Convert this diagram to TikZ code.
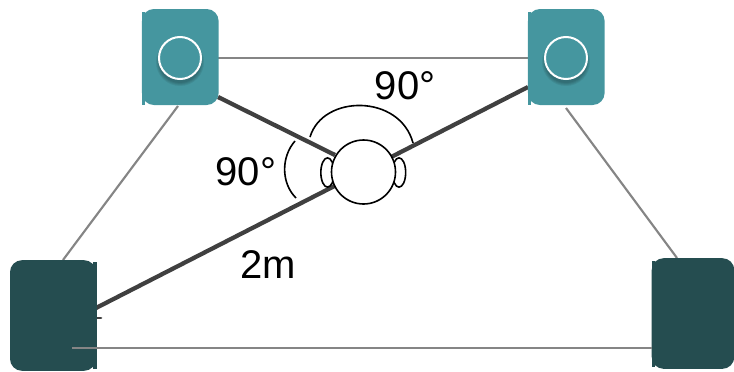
\documentclass[tikz,border=0pt]{standalone}
\usepackage{fontspec}
\usetikzlibrary{shapes.geometric}
\setmainfont{Liberation Sans}
\definecolor{tealbox}{HTML}{45969F}
\definecolor{darkbox}{HTML}{254D50}
\definecolor{thinline}{HTML}{858585}
\definecolor{thickline}{HTML}{404040}
\begin{document}
\begin{tikzpicture}[x=0.75pt,y=-0.75pt,
  speaker/.style={rounded corners=9pt,inner sep=0pt,outer sep=0pt,minimum width=#1},
  thin link/.style={draw=thinline,line width=1.6pt},
  thick link/.style={draw=thickline,line width=3.2pt},
  cone/.style={draw=white,line width=1.5pt,circle,inner sep=0pt,minimum size=31.5pt,fill=tealbox},
  headpart/.style={draw=black,line width=1.2pt,fill=white,inner sep=0pt},
  anglearc/.style={draw=black,line width=1.2pt},
  lbl/.style={font=\fontsize{30}{32}\selectfont,inner sep=0pt,text=black}]
\useasboundingbox (0,0) rectangle (734,371);
% anchors of the connectors
\coordinate (tlR) at (218,58);
\coordinate (trL) at (528,58);
\coordinate (tlB) at (178,106);
\coordinate (dlT) at (63,260);
\coordinate (trB) at (566,108);
\coordinate (drT) at (677,258);
\coordinate (dlIn) at (72,348);
\coordinate (drL) at (652,348);
\coordinate (tlC) at (218,97);
\coordinate (dlR) at (96,308);
\coordinate (trC) at (528,87);
\coordinate (stubA) at (96,318);
\coordinate (stubB) at (101,318);
% connectors under the boxes
\draw[thin link] (tlR) -- (trL);
\draw[thin link] (tlB) -- (dlT);
\draw[thin link] (trB) -- (drT);
\draw[thick link] (dlR) -- (trC);
\draw[thick link] (tlC) -- (335,155) coordinate (headL);
\draw[thickline,line width=2pt,line cap=round] (stubA) -- (stubB);
% speakers
\node[speaker=57.5pt,fill=tealbox,minimum height=72pt] (tl) at (180.3,57) {};
\fill[tealbox] (142,12) rectangle (145,104.5);
\node[speaker=57.5pt,fill=tealbox,minimum height=72pt] (tr) at (566.3,57) {};
\fill[tealbox] (528,12) rectangle (531,104.5);
\node[speaker=64.5pt,fill=darkbox,minimum height=83pt] (dl) at (53,315.5) {};
\fill[darkbox] (93,262) rectangle (96.5,369);
\node[speaker=62pt,fill=darkbox,minimum height=83pt] (dr) at (693,313.5) {};
\fill[darkbox] (652,261) rectangle (655,367);
% soft shadow and cones
\foreach \r in {24,23,22,21}{
  \fill[black,opacity=0.07] (180,62) circle[radius=\r];
  \fill[black,opacity=0.07] (566,62) circle[radius=\r];
}
\node[cone] (c1) at (180,58) {};
\node[cone] (c2) at (566,58) {};
\draw[thin link] (dlIn) -- (drL);
% head
\node[headpart,ellipse,minimum width=10pt,minimum height=22pt] (earL) at (327.5,172.5) {};
\node[headpart,ellipse,minimum width=10pt,minimum height=22pt] (earR) at (399,172.5) {};
\node[headpart,circle,minimum size=48pt] (head) at (363.5,172) {};
% angle arcs
\draw[anglearc] (310,137) .. controls (323,94) and (400,94) .. (413,143);
\draw[anglearc] (295,141) .. controls (281,157) and (281,183) .. (296,198);
% labels
\node[lbl] (a1) at (405,86) {90°};
\node[lbl] (a2) at (246,172) {90°};
\node[lbl] (d) at (268,265) {2m};
\end{tikzpicture}
\end{document}
